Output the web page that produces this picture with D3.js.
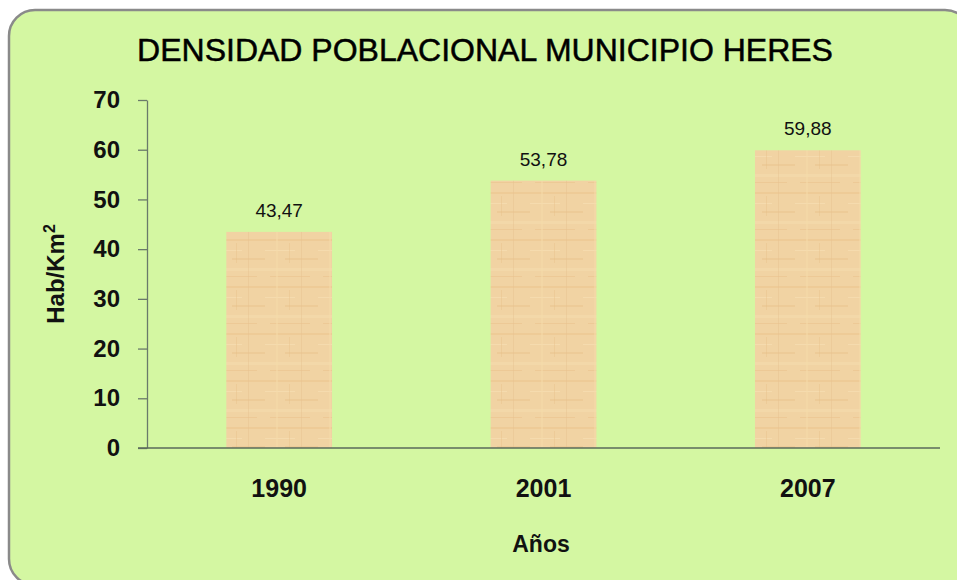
<!DOCTYPE html>
<html><head><meta charset="utf-8">
<script src="https://cdn.jsdelivr.net/npm/d3@7/dist/d3.min.js"></script>
<style>body{margin:0;background:#fff;}svg{display:block;}</style>
</head><body>
<svg id="c" width="957" height="580"></svg>
<script>
const categories = ["1990", "2001", "2007"];
const values = [43.47, 53.78, 59.88];
const valueLabels = ["43,47", "53,78", "59,88"];
const yTicks = [0, 10, 20, 30, 40, 50, 60, 70];
const title = "DENSIDAD POBLACIONAL MUNICIPIO HERES";
const yTitleMain = "Hab/Km";
const yTitleSup = "2";
const xTitle = "Años";

const svg = d3.select("#c");
const font = "Liberation Sans, Arial, sans-serif";

// papyrus-like texture pattern
const defs = svg.append("defs");
const pat = defs.append("pattern").attr("id","pap").attr("patternUnits","userSpaceOnUse")
  .attr("width",53).attr("height",47);
pat.append("rect").attr("width",53).attr("height",47).attr("fill","#f1d3a3");
const streaks = [[0,4,53,2,"#ecc68f",0.6],[0,15,30,1,"#f6ddb0",0.8],[20,23,33,2,"#eac28c",0.45],
  [0,33,53,3,"#f5dcae",0.6],[5,41,40,1,"#e9c08a",0.5],[11,0,2,47,"#f5dbaa",0.5],
  [36,0,1,47,"#e8c290",0.45],[24,8,1,20,"#e6be88",0.4]];
streaks.forEach(s=>pat.append("rect").attr("x",s[0]).attr("y",s[1]).attr("width",s[2]).attr("height",s[3])
  .attr("fill",s[4]).attr("opacity",s[5]));

// frame
svg.append("rect").attr("x",9).attr("y",10).attr("width",962).attr("height",575)
  .attr("rx",26).attr("ry",26).attr("fill","#d4f7a2").attr("stroke","#8a8a8a").attr("stroke-width",2.5);

const x = d3.scaleBand().domain(categories).range([147, 940]).paddingInner(0.6).paddingOuter(0.3);
const y = d3.scaleLinear().domain([0, 70]).range([448, 100]);

// bars
svg.append("g").selectAll("rect").data(values).join("rect")
  .attr("x",(d,i)=>x(categories[i]))
  .attr("y",d=>y(d))
  .attr("width",x.bandwidth())
  .attr("height",d=>y(0)-y(d))
  .attr("fill","url(#pap)");

// y axis
const ya = svg.append("g").attr("transform","translate(147,0)")
  .call(d3.axisLeft(y).tickValues(yTicks).tickSize(9).tickPadding(18).tickSizeOuter(0));
ya.select(".domain").attr("stroke","#6a7a6a").attr("stroke-width",1.3);
ya.selectAll(".tick line").attr("stroke","#6a7a6a").attr("stroke-width",1.3);
ya.selectAll(".tick text").attr("font-family",font).attr("font-weight","bold").attr("font-size",24).attr("fill","#111");

// x axis
const xa = svg.append("g").attr("transform","translate(0,448)")
  .call(d3.axisBottom(x).tickSize(0).tickPadding(31));
xa.select(".domain").remove();
xa.selectAll(".tick text").attr("font-family",font).attr("font-weight","bold").attr("font-size",25).attr("fill","#111");
svg.append("line").attr("x1",138).attr("x2",940).attr("y1",y(0)).attr("y2",y(0))
  .attr("stroke","#5a6a5a").attr("stroke-width",1.5);

// value labels
svg.append("g").selectAll("text").data(values).join("text")
  .attr("x",(d,i)=>x(categories[i])+x.bandwidth()/2)
  .attr("y",d=>y(d)-15)
  .attr("text-anchor","middle").attr("font-family",font).attr("font-size",19).attr("fill","#111")
  .text((d,i)=>valueLabels[i]);

// title
svg.append("text").attr("x",485).attr("y",61).attr("text-anchor","middle")
  .attr("font-family",font).attr("font-size",32).attr("fill","#000")
  .attr("stroke","#000").attr("stroke-width",0.5).text(title);

// axis titles
const yt = svg.append("text").attr("transform","translate(64,274) rotate(-90)").attr("text-anchor","middle")
  .attr("font-family",font).attr("font-weight","bold").attr("font-size",24).attr("fill","#111");
yt.append("tspan").text(yTitleMain);
yt.append("tspan").attr("font-size",16).attr("dy",-9).text(yTitleSup);
svg.append("text").attr("x",541).attr("y",552).attr("text-anchor","middle")
  .attr("font-family",font).attr("font-weight","bold").attr("font-size",23).attr("fill","#111").text(xTitle);
</script>
</body></html>
